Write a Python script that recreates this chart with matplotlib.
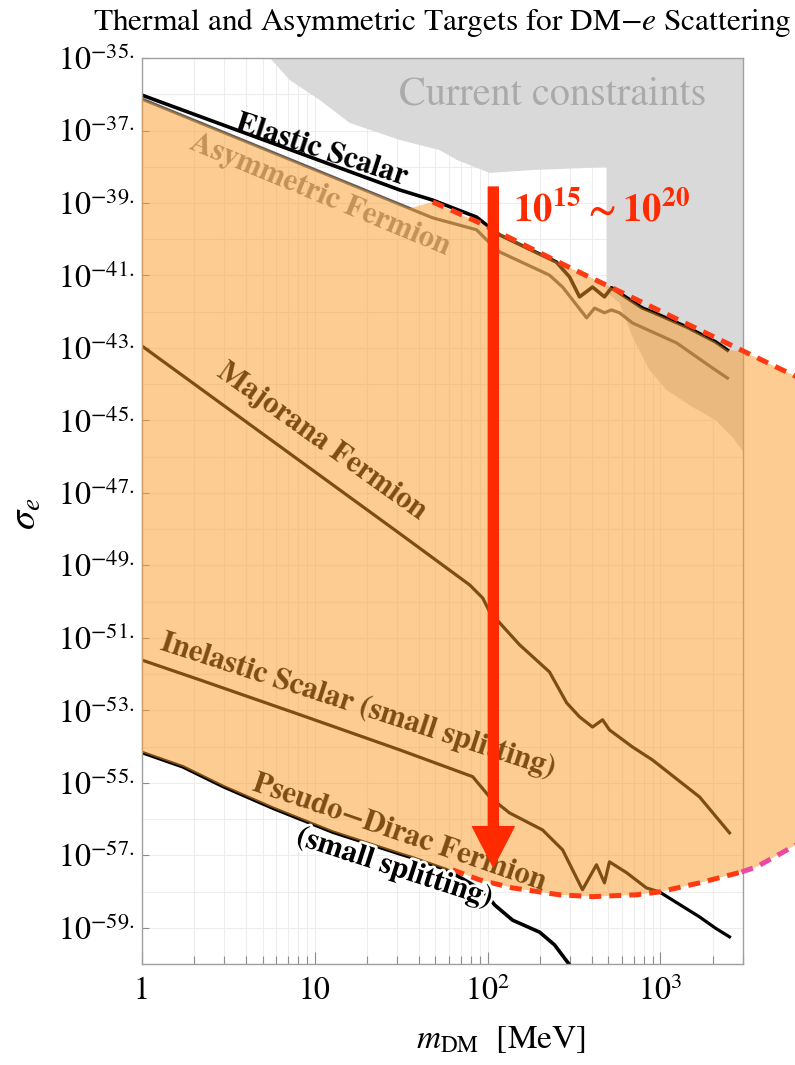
import numpy as np
import matplotlib.pyplot as plt
import matplotlib.patheffects as pe
from matplotlib.patches import Polygon, FancyArrowPatch
from matplotlib.ticker import FixedLocator, FixedFormatter, NullFormatter

plt.rcParams['font.family'] = 'STIXGeneral'
plt.rcParams['mathtext.fontset'] = 'stix'

################################################################################
## Data: log10(m_DM / MeV) and log10(sigma_e / cm^2)

ELASTIC_LOGM = [0, 1.492, 1.683, 1.937, 1.995, 2.070, 2.398, 2.474,
                2.532, 2.607, 2.676, 2.717, 2.781, 2.896, 2.954, 3.151, 3.318, 3.387]
ELASTIC_LOGS = [-36.02, -38.64, -38.92, -39.39, -39.61, -39.88, -40.63, -41.04,
                -41.59, -41.32, -41.59, -41.34, -41.54, -41.90, -42.01, -42.42, -42.83, -43.06]

ASYM_LOGM = [0, 1.683, 1.937, 1.995, 2.070, 2.358, 2.434, 2.573,
             2.619, 2.676, 2.717, 2.763, 2.838, 3.093, 3.318, 3.387]
ASYM_LOGS = [-36.13, -39.41, -39.74, -40.02, -40.35, -40.99, -41.32, -42.17,
             -41.90, -42.03, -41.95, -42.03, -42.31, -42.86, -43.61, -43.83]

MAJORANA_LOGM = [0, 1.492, 1.897, 1.972, 2.012, 2.185, 2.358,
                 2.457, 2.532, 2.607, 2.665, 2.705, 2.838, 2.954, 3.226, 3.399]
MAJORANA_LOGS = [-42.94, -48.12, -49.54, -49.90, -50.28, -51.19, -51.94,
                 -52.79, -53.18, -53.46, -53.26, -53.54, -54.01, -54.37, -55.39, -56.38]

INELASTIC_LOGM = [0, 0.337, 0.915, 1.492, 1.914, 2.012, 2.127, 2.318, 2.434, 2.549,
                  2.630, 2.676, 2.705, 2.804, 2.919, 2.994, 3.226, 3.318, 3.399]
INELASTIC_LOGS = [-51.61, -52.16, -53.12, -54.09, -54.83, -55.39, -55.83, -56.30, -56.85, -57.95,
                  -57.26, -57.76, -57.18, -57.48, -57.90, -58.01, -58.70, -59.01, -59.25]

PSEUDO_LOGM = [0, 0.239, 0.470, 0.759, 1.105, 1.492, 1.567, 1.764, 1.914, 1.995,
               2.041, 2.145, 2.301, 2.387, 2.474]
PSEUDO_LOGS = [-54.16, -54.56, -55.10, -55.70, -56.36, -56.96, -57.07, -57.40, -57.81, -58.09,
               -58.37, -58.79, -59.12, -59.47, -60.02]

## Current constraints (grey region outline)
CURRENT_LOGM = [0.742, 0.857, 1.030, 1.203, 1.492, 1.723, 1.822, 2.012, 2.261, 2.688,
                2.688, 2.763, 2.838, 2.936, 3.035, 3.185, 3.318, 3.416, 3.477, 3.477]
CURRENT_LOGS = [-35.0, -35.61, -36.16, -36.79, -37.26, -37.54, -37.81, -38.17, -38.09, -38.01,
                -41.46, -41.76, -42.70, -43.61, -44.16, -44.63, -44.99, -45.46, -45.85, -35.0]

## Target band outline (orange overlay)
BAND_LOGM = [0, 1.55, 1.683, 1.955, 2.474, 2.763, 2.781, 2.896, 2.954, 3.151,
             3.318, 3.387, 3.477, 3.763, 3.976, 4.2, 4.2, 3.976, 3.763, 3.555, 3.468, 3.226,
             2.994, 2.861, 2.607, 2.416, 2.145, 1.955, 1.798, 1.764, 1.567, 1.492, 1.105,
             0.759, 0.470, 0.239, 0]
BAND_LOGS = [-36.13, -39.15, -38.97, -39.55, -40.78, -41.44, -41.54, -41.90, -42.01, -42.42,
             -42.83, -43.06, -43.09, -43.74, -44.24, -44.7, -55.7, -56.16,
             -56.77, -57.32, -57.46, -57.76, -58.01, -58.09, -58.14, -58.09, -57.90, -57.68,
             -57.40, -57.40, -57.07, -56.96, -56.36, -55.70, -55.10, -54.56, -54.16]

DASH_UP_LOGM = [1.683, 1.955, 2.474, 2.781, 3.416, 3.763, 3.976]
DASH_UP_LOGS = [-38.97, -39.55, -40.78, -41.48, -42.94, -43.74, -44.24]
DASH_LOW_LOGM = [1.798, 1.955, 2.145, 2.416, 2.607, 2.861, 2.994, 3.226, 3.468, 3.555, 3.763, 3.976]
DASH_LOW_LOGS = [-57.40, -57.68, -57.90, -58.09, -58.14, -58.09, -58.01, -57.76, -57.46, -57.32,
                 -56.77, -56.16]
N_LOW_RED = 9  # red dashes up to ~3 GeV, pink beyond

ARROW_M = 108.0
ARROW_LOGS = [-38.56, -57.32]

Y_TICK_EXP = [-59, -57, -55, -53, -51, -49, -47, -45, -43, -41, -39, -37, -35]
X_TICKS = [1, 10, 100, 1000]
X_TICK_LABELS = ['1', '10', r'$10^2$', r'$10^3$']

## Colours
GREY_REGION = '#d9d9d9'
ORANGE = '#fa9b28'
RED = '#ff2a00'
DASH_RED = '#ff3a12'
DASH_PINK = '#ec4aa0'


def pw(v):
    return 10.0 ** np.asarray(v)


################################################################################
## Figure

fig = plt.figure(figsize=(7.95, 10.65), dpi=100)
ax = fig.add_axes([0.1782, 0.0948, 0.7564, 0.8507])
ax.set_xscale('log')
ax.set_yscale('log')
ax.set_xlim(1, 3000)
ax.set_ylim(1e-60, 1e-35)

## Ticks and grid
x_minor = [k * 10 ** d for d in range(0, 4) for k in range(2, 10) if k * 10 ** d <= 3000]
ax.xaxis.set_major_locator(FixedLocator(X_TICKS))
ax.xaxis.set_major_formatter(FixedFormatter(X_TICK_LABELS))
ax.xaxis.set_minor_locator(FixedLocator(x_minor))
ax.xaxis.set_minor_formatter(NullFormatter())
ax.yaxis.set_major_locator(FixedLocator(pw(Y_TICK_EXP)))
ax.yaxis.set_major_formatter(FixedFormatter([r'$10^{%d.}$' % e for e in Y_TICK_EXP]))
ax.yaxis.set_minor_locator(FixedLocator(pw(list(range(-60, -35, 2)))))
ax.yaxis.set_minor_formatter(NullFormatter())

ax.tick_params(which='both', direction='in', color='#8c8c8c', width=0.8, labelsize=23)
ax.tick_params(axis='x', which='major', length=9, pad=9)
ax.tick_params(axis='x', which='minor', length=6)
ax.tick_params(axis='y', which='major', length=5, pad=5)
ax.tick_params(axis='y', which='minor', length=0)
ax.grid(True, which='both', color='#ededed', lw=0.8, zorder=0)
ax.set_axisbelow(True)
for sp in ax.spines.values():
    sp.set_color('#a0a0a0')
    sp.set_linewidth(1.0)

## Current constraints
ax.add_patch(Polygon(np.column_stack([pw(CURRENT_LOGM), pw(CURRENT_LOGS)]),
                     closed=True, facecolor=GREY_REGION, edgecolor='none', zorder=1))
ax.text(238, 9.5e-37, 'Current constraints', color='#aaaaaa', fontsize=29,
        ha='center', va='center', zorder=1.5)

## Model curves
ax.plot(pw(ELASTIC_LOGM), pw(ELASTIC_LOGS), color='black', lw=2.6, zorder=2)
ax.plot(pw(ASYM_LOGM), pw(ASYM_LOGS), color='#606060', lw=2.3, zorder=2)
ax.plot(pw(MAJORANA_LOGM), pw(MAJORANA_LOGS), color='black', lw=2.3, zorder=2)
ax.plot(pw(INELASTIC_LOGM), pw(INELASTIC_LOGS), color='black', lw=2.3, zorder=2)
ax.plot(pw(PSEUDO_LOGM), pw(PSEUDO_LOGS), color='black', lw=2.6, zorder=2)

lab = dict(fontsize=22, fontweight='bold', ha='center', va='center', rotation_mode='anchor')
ax.text(11.0, 2.9e-38, 'Elastic Scalar', color='black', rotation=-18, zorder=3, **lab)
ax.text(10.7, 1.66e-39, 'Asymmetric Fermion', color='#8a8a8a', rotation=-22.5, zorder=3, **lab)
ax.text(11.0, 2.6e-46, 'Majorana Fermion', color='black', rotation=-35.5, zorder=3, **lab)
ax.text(17.8, 1.4e-53, 'Inelastic Scalar (small splitting)', color='black',
        rotation=-18, zorder=3, **lab)
ax.text(31.0, 4.2e-57, 'Pseudo\u2212Dirac Fermion', color='black', rotation=-19, zorder=3, **lab)
ax.text(29.0, 4.6e-58, '(small splitting)', color='black', rotation=-18, zorder=6,
        path_effects=[pe.withStroke(linewidth=4, foreground='white')], **lab)

## Target band overlay
ax.add_patch(Polygon(np.column_stack([pw(BAND_LOGM), pw(BAND_LOGS)]), closed=True,
                     facecolor=ORANGE, edgecolor='none', alpha=0.5, zorder=4, clip_on=False))
dash = dict(lw=3.6, linestyle=(0, (2.4, 1.6)), dash_capstyle='butt', clip_on=False, zorder=5)
ax.plot(pw(DASH_UP_LOGM), pw(DASH_UP_LOGS), color=DASH_RED, **dash)
ax.plot(pw(DASH_LOW_LOGM[:N_LOW_RED]), pw(DASH_LOW_LOGS[:N_LOW_RED]), color=DASH_RED, **dash)
ax.plot(pw(DASH_LOW_LOGM[N_LOW_RED - 1:]), pw(DASH_LOW_LOGS[N_LOW_RED - 1:]), color=DASH_PINK, **dash)

## Arrow and range label
arrow = FancyArrowPatch((ARROW_M, 10 ** ARROW_LOGS[0]), (ARROW_M, 10 ** ARROW_LOGS[1]),
                        arrowstyle='simple,head_length=29,head_width=30,tail_width=7.2',
                        mutation_scale=1, color=RED, shrinkA=0, shrinkB=0, zorder=6)
ax.add_patch(arrow)
ax.text(456, 6.2e-40, r'$\mathbf{10^{15}\sim10^{20}}$', color=RED, fontsize=28,
        ha='center', va='center', zorder=6)

## Titles
fig.text(0.556, 0.979, 'Thermal and Asymmetric Targets for DM$-e$ Scattering',
         fontsize=22.6, ha='center', va='center')
fig.text(0.63, 0.024, r'$m_{\rm DM}$  [MeV]', fontsize=24, ha='center', va='center')
fig.text(0.033, 0.518, r'$\sigma_e$', fontsize=28, ha='center', va='center', rotation=90)

fig.savefig('out.png', dpi=100)
